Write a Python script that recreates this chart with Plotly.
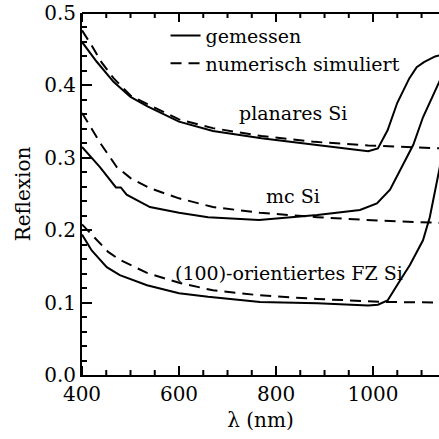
import plotly.graph_objects as go

# --- data (wavelength in nm, reflection) ---
planar_meas_wl = [400, 430, 465, 500, 535, 600, 670, 770, 880, 950, 990, 1010, 1030, 1050, 1075, 1090, 1105, 1128, 1140]
planar_meas_r = [0.460, 0.433, 0.405, 0.384, 0.371, 0.350, 0.337, 0.327, 0.318, 0.312, 0.309, 0.313, 0.338, 0.376, 0.410, 0.425, 0.432, 0.440, 0.442]

planar_sim_wl = [400, 420, 440, 465, 500, 535, 600, 670, 770, 880, 990, 1070, 1140]
planar_sim_r = [0.476, 0.455, 0.432, 0.410, 0.386, 0.374, 0.353, 0.341, 0.330, 0.322, 0.317, 0.315, 0.313]

mc_meas_wl = [400, 437, 470, 480, 492, 520, 540, 600, 660, 765, 885, 973, 1008, 1035, 1056, 1070, 1083, 1103, 1132, 1140]
mc_meas_r = [0.315, 0.287, 0.259, 0.259, 0.249, 0.239, 0.232, 0.224, 0.218, 0.214, 0.221, 0.228, 0.237, 0.256, 0.283, 0.301, 0.318, 0.356, 0.400, 0.410]

mc_sim_wl = [400, 415, 440, 472, 500, 540, 600, 670, 767, 885, 1020, 1140]
mc_sim_r = [0.362, 0.345, 0.318, 0.287, 0.272, 0.258, 0.244, 0.232, 0.224, 0.218, 0.213, 0.210]

fz_meas_wl = [400, 420, 451, 478, 534, 600, 660, 767, 885, 990, 1010, 1030, 1056, 1076, 1103, 1117, 1140]
fz_meas_r = [0.194, 0.172, 0.149, 0.138, 0.124, 0.113, 0.108, 0.101, 0.099, 0.096, 0.097, 0.103, 0.131, 0.152, 0.186, 0.218, 0.295]

fz_sim_wl = [400, 437, 454, 478, 534, 602, 670, 767, 885, 1021, 1140]
fz_sim_r = [0.208, 0.182, 0.170, 0.159, 0.141, 0.127, 0.117, 0.110, 0.105, 0.101, 0.100]

labels = ["planares Si", "mc Si", "(100)-orientiertes FZ Si"]
label_wl = [836, 835, 827]
label_r = [0.362, 0.247, 0.141]

X_RANGE = [400, 1136]
x_major_ticks = [400, 600, 800, 1000]
x_minor_ticks = [v for v in range(400, 1137, 50) if v not in x_major_ticks]

FONT = "DejaVu Serif"
solid = dict(color="black", width=2)
dashed = dict(color="black", width=2, dash="11px,7px")

fig = go.Figure()
fig.add_trace(go.Scatter(x=planar_meas_wl, y=planar_meas_r, mode="lines", line=solid,
                         name="gemessen", showlegend=True))
fig.add_trace(go.Scatter(x=planar_sim_wl, y=planar_sim_r, mode="lines", line=dashed,
                         name="numerisch simuliert", showlegend=True))
fig.add_trace(go.Scatter(x=mc_meas_wl, y=mc_meas_r, mode="lines", line=solid, showlegend=False))
fig.add_trace(go.Scatter(x=mc_sim_wl, y=mc_sim_r, mode="lines", line=dashed, showlegend=False))
fig.add_trace(go.Scatter(x=fz_meas_wl, y=fz_meas_r, mode="lines", line=solid, showlegend=False))
fig.add_trace(go.Scatter(x=fz_sim_wl, y=fz_sim_r, mode="lines", line=dashed, showlegend=False))

for t, xv, yv in zip(labels, label_wl, label_r):
    fig.add_annotation(x=xv, y=yv, text=t, showarrow=False,
                       font=dict(family=FONT, size=19, color="black"))

# frame: top border line and x tick marks (bottom and top), placed on the x scale
PLOT_H = 439 - 13 - 64
tick_line = dict(color="black", width=2)
fig.add_shape(type="line", xref="paper", yref="paper", x0=0, x1=1, y0=1, y1=1, line=tick_line)
for v in x_major_ticks + x_minor_ticks:
    frac = (9 if v in x_major_ticks else 5) / PLOT_H
    fig.add_shape(type="line", xref="x", yref="paper", x0=v, x1=v, y0=0, y1=frac, line=tick_line)
    fig.add_shape(type="line", xref="x", yref="paper", x0=v, x1=v, y0=1, y1=1 - frac, line=tick_line)

tick_common = dict(ticks="inside", tickwidth=2, tickcolor="#000000",
                   showline=True, linewidth=2, linecolor="black",
                   showgrid=False, zeroline=False, layer="above traces")

fig.update_layout(
    width=439, height=439,
    margin=dict(l=82, r=0, t=13, b=64),
    paper_bgcolor="white", plot_bgcolor="white",
    font=dict(family=FONT, size=20, color="black"),
    legend=dict(x=0.234, y=0.99, xanchor="left", yanchor="top",
                bgcolor="rgba(0,0,0,0)", font=dict(family=FONT, size=19),
                itemwidth=30, tracegroupgap=0),
    xaxis=dict(
        range=X_RANGE, tickvals=x_major_ticks, ticklen=9,
        title=dict(text="λ (nm)", standoff=8, font=dict(family=FONT, size=20)),
        tickfont=dict(family=FONT, size=20),
        **tick_common,
    ),
    yaxis=dict(
        range=[0, 0.5], tick0=0, dtick=0.1, tickformat=".1f", ticklen=10,
        minor=dict(dtick=0.02, tick0=0, ticks="inside", ticklen=5, tickwidth=2, tickcolor="#000000"),
        title=dict(text="Reflexion", standoff=8, font=dict(family=FONT, size=20)),
        tickfont=dict(family=FONT, size=20),
        **tick_common,
    ),
)

fig.write_html("out.html")
